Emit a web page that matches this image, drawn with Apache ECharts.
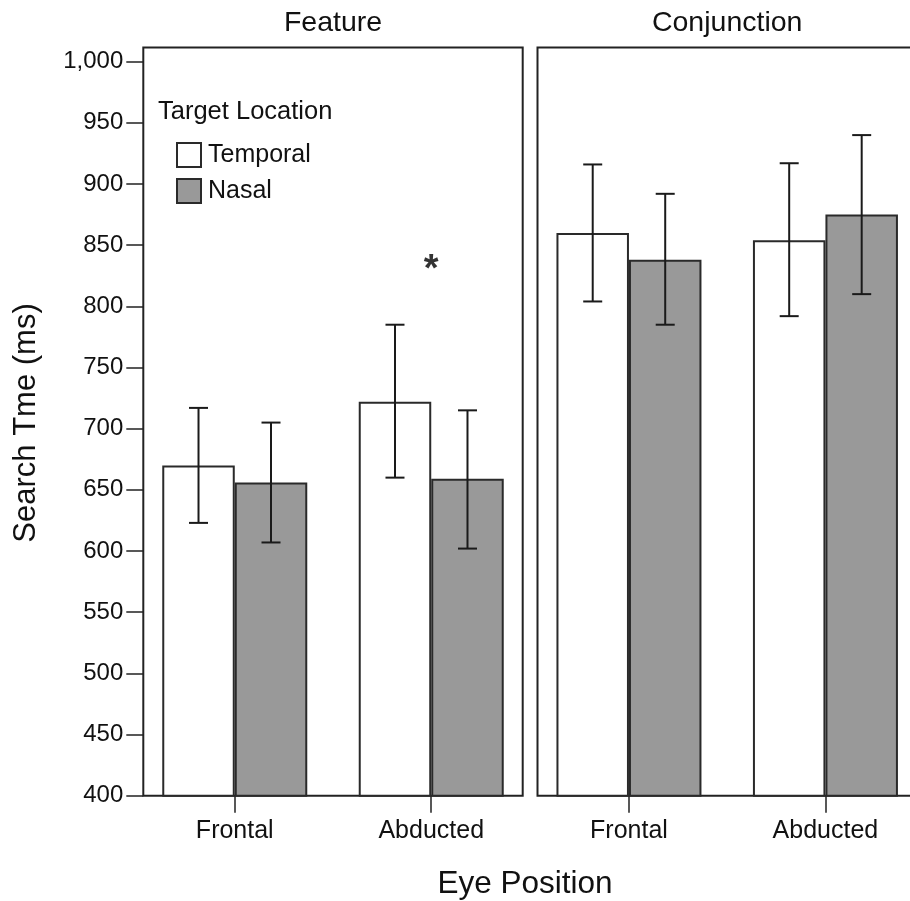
<!DOCTYPE html>
<html>
<head>
<meta charset="utf-8">
<script src="https://cdn.jsdelivr.net/npm/echarts@6/dist/echarts.min.js"></script>
<style>
html,body{margin:0;padding:0;background:#fff;}
#chart{width:910px;height:901px;}
</style>
</head>
<body>
<div id="chart"></div>
<script>
// ---- data ----
const categories = ['Frontal', 'Abducted'];
const panelTitles = ['Feature', 'Conjunction'];
const seriesNames = ['Temporal', 'Nasal'];
const legendTitle = 'Target Location';
const yAxisTitle = 'Search Tme (ms)';
const xAxisTitle = 'Eye Position';
const yTicks = [400, 450, 500, 550, 600, 650, 700, 750, 800, 850, 900, 950, 1000];

// Feature panel
const featureTemporal = [670, 722];
const featureTemporalLow = [623, 660];
const featureTemporalHigh = [717, 785];
const featureNasal = [656, 659];
const featureNasalLow = [607, 602];
const featureNasalHigh = [705, 715];
// Conjunction panel
const conjTemporal = [860, 854];
const conjTemporalLow = [804, 792];
const conjTemporalHigh = [916, 917];
const conjNasal = [838, 875];
const conjNasalLow = [785, 810];
const conjNasalHigh = [892, 940];
// significance marker
const sigMarker = {category: 1, value: 836, text: '*'};

// ---- style ----
const FONT = "'Liberation Sans', Arial, Helvetica, sans-serif";
const BAR_W = 72.5;
const FRAME = '#222';
const GRAY = '#999999';
const yMin = 400, yMax = 1011.6;
const xMin = -0.4655, xMax = 1.4655;

function barData(vals) { return vals.map((v, i) => [i, v]); }
function errData(lo, hi) { return lo.map((l, i) => [i, l, hi[i]]); }

function errSeries(gi, lo, hi, dir) {
  return {
    type: 'custom',
    xAxisIndex: gi, yAxisIndex: gi,
    z: 5,
    silent: true,
    encode: {x: 0, y: [1, 2]},
    data: errData(lo, hi),
    renderItem: function (params, api) {
      const x = api.value(0);
      const pTop = api.coord([x, api.value(2)]);
      const pBot = api.coord([x, api.value(1)]);
      const cx = pTop[0] + dir * BAR_W / 2;
      const cap = 9.5;
      const st = {stroke: '#1a1a1a', lineWidth: 2};
      return {
        type: 'group',
        children: [
          {type: 'line', shape: {x1: cx, y1: pTop[1], x2: cx, y2: pBot[1]}, style: st},
          {type: 'line', shape: {x1: cx - cap, y1: pTop[1], x2: cx + cap, y2: pTop[1]}, style: st},
          {type: 'line', shape: {x1: cx - cap, y1: pBot[1], x2: cx + cap, y2: pBot[1]}, style: st}
        ]
      };
    }
  };
}

function barSeries(gi, name, vals, color) {
  return {
    type: 'bar', name: name,
    xAxisIndex: gi, yAxisIndex: gi,
    barWidth: BAR_W, barGap: '0%',
    data: barData(vals),
    itemStyle: {color: color, borderColor: '#2a2a2a', borderWidth: 2},
    emphasis: {disabled: true},
    z: 2
  };
}

function xAxis(gi) {
  return {
    type: 'value', gridIndex: gi, min: xMin, max: xMax,
    axisLine: {show: false, onZero: false},
    splitLine: {show: false},
    axisTick: {show: true, customValues: [0, 1], length: 17, lineStyle: {color: FRAME, width: 1.5}},
    axisLabel: {show: true, customValues: [0, 1], margin: 23,
      formatter: v => categories[Math.round(v)],
      fontFamily: FONT, fontSize: 25, color: '#111'}
  };
}

function yAxis(gi, labels) {
  return {
    type: 'value', gridIndex: gi, min: yMin, max: yMax,
    axisLine: {show: false, onZero: false},
    splitLine: {show: false},
    axisTick: {show: labels, customValues: yTicks, length: 17, lineStyle: {color: FRAME, width: 1.5}},
    axisLabel: {show: labels, customValues: yTicks, margin: 20,
      formatter: v => v.toLocaleString('en-US'),
      fontFamily: FONT, fontSize: 24, color: '#111'}
  };
}

const chart = echarts.init(document.getElementById('chart'), null, {renderer: 'canvas'});
const gridTop = 47.5, gridH = 748.2, gridW = 379.4;
const gridLefts = [143.3, 537.5];

chart.setOption({
  animation: false,
  backgroundColor: '#fff',
  grid: gridLefts.map(l => ({left: l, top: gridTop, width: gridW, height: gridH,
    outerBoundsMode: 'none', containLabel: false,
    show: true, borderColor: FRAME, borderWidth: 2, backgroundColor: 'transparent'})),
  xAxis: [xAxis(0), xAxis(1)],
  yAxis: [yAxis(0, true), yAxis(1, false)],
  legend: {
    orient: 'vertical', left: 171, top: 137,
    itemWidth: 24, itemHeight: 24, itemGap: 10,
    icon: 'rect',
    data: seriesNames,
    textStyle: {fontFamily: FONT, fontSize: 25, color: '#111', padding: [0, 0, 0, 2]},
    selectedMode: false
  },
  graphic: [
    {type: 'text', x: gridLefts[0] + gridW / 2, y: 23, style: {text: panelTitles[0], font: '28.5px ' + FONT, fill: '#111', textAlign: 'center', textVerticalAlign: 'middle'}},
    {type: 'text', x: gridLefts[1] + gridW / 2, y: 23, style: {text: panelTitles[1], font: '28.5px ' + FONT, fill: '#111', textAlign: 'center', textVerticalAlign: 'middle'}},
    {type: 'text', x: 158, y: 112, style: {text: legendTitle, font: '25.5px ' + FONT, fill: '#111', textAlign: 'left', textVerticalAlign: 'middle'}},
    {type: 'text', x: 26, y: 423, rotation: Math.PI / 2, style: {text: yAxisTitle, font: '31px ' + FONT, fill: '#111', textAlign: 'center', textVerticalAlign: 'middle'}},
    {type: 'text', x: 525, y: 884, style: {text: xAxisTitle, font: '31.5px ' + FONT, fill: '#111', textAlign: 'center', textVerticalAlign: 'middle'}}
  ],
  series: [
    barSeries(0, seriesNames[0], featureTemporal, '#ffffff'),
    barSeries(0, seriesNames[1], featureNasal, GRAY),
    barSeries(1, seriesNames[0], conjTemporal, '#ffffff'),
    barSeries(1, seriesNames[1], conjNasal, GRAY),
    errSeries(0, featureTemporalLow, featureTemporalHigh, -1),
    errSeries(0, featureNasalLow, featureNasalHigh, 1),
    errSeries(1, conjTemporalLow, conjTemporalHigh, -1),
    errSeries(1, conjNasalLow, conjNasalHigh, 1),
    {
      type: 'scatter', xAxisIndex: 0, yAxisIndex: 0, silent: true,
      data: [[sigMarker.category, sigMarker.value]],
      symbolSize: 1, itemStyle: {color: 'rgba(0,0,0,0)'},
      label: {show: true, position: 'inside', formatter: sigMarker.text, offset: [0, 8],
        fontFamily: FONT, fontSize: 38, fontWeight: 'bold', color: '#000'}
    }
  ]
});
</script>
</body>
</html>
